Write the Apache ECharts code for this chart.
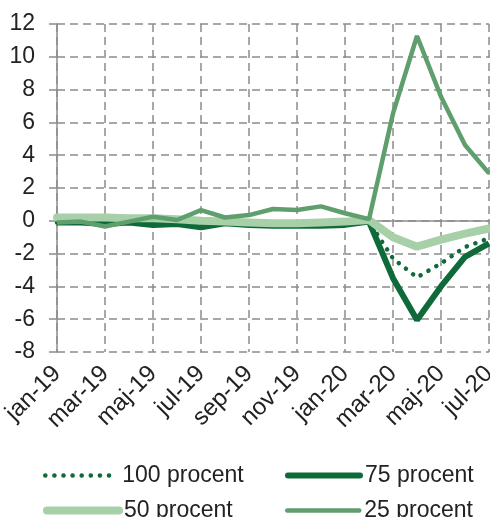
<!DOCTYPE html>
<html>
<head>
<meta charset="utf-8">
<script src="https://cdn.jsdelivr.net/npm/echarts@6/dist/echarts.min.js"></script>
<style>
  html, body { margin: 0; padding: 0; background: #fff; }
  #chart { width: 490px; height: 517px; }
</style>
</head>
<body>
<div id="chart"></div>
<script>
// Monthly categories, January 2019 to July 2020
const months = ['jan-19', 'feb-19', 'mar-19', 'apr-19', 'maj-19', 'jun-19', 'jul-19', 'aug-19',
  'sep-19', 'okt-19', 'nov-19', 'dec-19', 'jan-20', 'feb-20', 'mar-20', 'apr-20', 'maj-20',
  'jun-20', 'jul-20'];

const p100 = [-0.1, -0.1, -0.15, -0.1, -0.2, -0.15, -0.3, -0.1, -0.2, -0.25, -0.25, -0.25,
  -0.2, -0.05, -2.3, -3.45, -2.6, -1.6, -1.07];
const p75 = [-0.1, -0.1, -0.2, -0.1, -0.25, -0.2, -0.4, -0.15, -0.25, -0.3, -0.3, -0.3,
  -0.25, -0.05, -3.5, -6.05, -4.0, -2.2, -1.37];
const p50 = [0.2, 0.2, 0.2, 0.15, 0.15, 0.1, 0.0, -0.05, -0.1, -0.15, -0.15, -0.1,
  -0.05, 0.05, -1.0, -1.58, -1.15, -0.78, -0.47];
const p25 = [-0.1, -0.05, -0.35, -0.05, 0.25, 0.05, 0.65, 0.2, 0.35, 0.72, 0.66, 0.88,
  0.46, 0.1, 6.55, 11.27, 7.57, 4.62, 2.9];

const names = ['100 procent', '75 procent', '50 procent', '25 procent'];

const dark = '#0f6a3a';
const mid = '#5e9f6d';
const light = '#a7d0a9';
const gridGray = '#8c8c8c';
const textColor = '#222';
const font = 'Liberation Sans, Arial, sans-serif';

const dotted = [0.1, 9];

const chart = echarts.init(document.getElementById('chart'));

function legendAt(name, left, top, lineStyle) {
  return {
    data: [name],
    left: left,
    top: top,
    padding: 0,
    itemWidth: 72,
    itemHeight: 14,
    itemGap: 0,
    selectedMode: false,
    itemStyle: { opacity: 0 },
    lineStyle: lineStyle,
    textStyle: { fontFamily: font, fontSize: 23, color: textColor }
  };
}

chart.setOption({
  animation: false,
  backgroundColor: '#fff',
  grid: {
    left: 57, right: 1, top: 24, bottom: 165,
    containLabel: false, outerBoundsMode: 'none'
  },
  legend: [
    legendAt(names[0], 43, 464, { width: 4.5, type: dotted, cap: 'round' }),
    legendAt(names[1], 285, 464, { width: 6, cap: 'round' }),
    legendAt(names[2], 43, 499, { width: 8, cap: 'round' }),
    legendAt(names[3], 285, 499, { width: 4.5, cap: 'round' })
  ],
  xAxis: [
    {
      type: 'category',
      data: months,
      boundaryGap: false,
      axisLine: { show: false, onZero: false },
      axisTick: { show: false },
      axisLabel: {
        interval: 1,
        rotate: 45,
        margin: 18,
        fontFamily: font,
        fontSize: 24,
        color: textColor
      },
      splitLine: {
        show: true,
        interval: 1,
        lineStyle: { color: gridGray, width: 1.5, type: [8, 5] }
      }
    },
    {
      // zero line across the plot
      type: 'category',
      data: months,
      boundaryGap: false,
      position: 'bottom',
      axisLine: { show: true, onZero: true, lineStyle: { color: gridGray, width: 1.5 } },
      axisTick: { show: false },
      axisLabel: { show: false },
      splitLine: { show: false }
    }
  ],
  yAxis: {
    type: 'value',
    min: -8,
    max: 12,
    interval: 2,
    axisLine: { show: true, lineStyle: { color: gridGray, width: 1.5 } },
    axisTick: { show: true, length: 8, lineStyle: { color: gridGray, width: 1.5 } },
    axisLabel: { margin: 22, fontFamily: font, fontSize: 23, color: textColor },
    splitLine: { show: true, lineStyle: { color: gridGray, width: 1.5, type: [8, 5] } }
  },
  series: [
    {
      name: names[0], type: 'line', data: p100, symbol: 'none', z: 2,
      lineStyle: { color: dark, width: 4.5, type: dotted, cap: 'round' },
      itemStyle: { color: dark }
    },
    {
      name: names[1], type: 'line', data: p75, symbol: 'none', z: 3,
      lineStyle: { color: dark, width: 6 },
      itemStyle: { color: dark }
    },
    {
      name: names[2], type: 'line', data: p50, symbol: 'none', z: 4,
      lineStyle: { color: light, width: 8, cap: 'round' },
      itemStyle: { color: light }
    },
    {
      name: names[3], type: 'line', data: p25, symbol: 'none', z: 5,
      lineStyle: { color: mid, width: 4.5 },
      itemStyle: { color: mid }
    }
  ]
});
</script>
</body>
</html>
